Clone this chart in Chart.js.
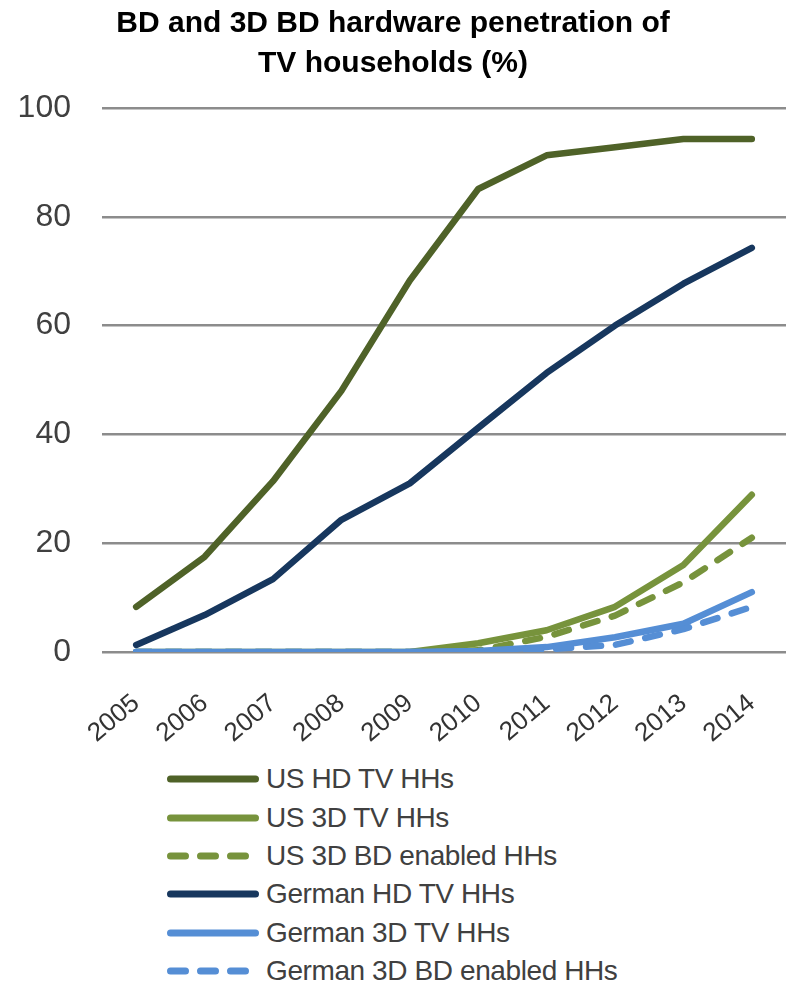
<!DOCTYPE html>
<html>
<head>
<meta charset="utf-8">
<script src="https://cdn.jsdelivr.net/npm/chart.js@4/dist/chart.umd.min.js"></script>
<style>
  html, body { margin: 0; padding: 0; background: #ffffff; }
  #wrap { position: relative; width: 786px; height: 987px; overflow: hidden; }
  #c { position: absolute; left: 0; top: 0; }
  #legend { position: absolute; left: 167px; top: 760px; margin: 0; padding: 0; list-style: none; }
  #legend li { display: flex; align-items: center; height: 38.4px; }
  #legend svg { display: block; }
  #legend span { margin-left: 7px; font-family: "Liberation Sans", Arial, sans-serif; font-size: 28px; color: #404040; letter-spacing: -0.4px; white-space: nowrap; }
</style>
</head>
<body>
<div id="wrap">
  <canvas id="c" width="786" height="760" style="width:786px;height:760px"></canvas>
  <ul id="legend"></ul>
</div>
<script>
const titleLines = ["BD and 3D BD hardware penetration of", "TV households (%)"];
const years = ["2005", "2006", "2007", "2008", "2009", "2010", "2011", "2012", "2013", "2014"];
const yTicks = [0, 20, 40, 60, 80, 100];

const seriesNames = ["US HD TV HHs", "US 3D TV HHs", "US 3D BD enabled HHs", "German HD TV HHs", "German 3D TV HHs", "German 3D BD enabled HHs"];
const usHD      = [8.3, 17.5, 31.4, 48.0, 68.3, 85.1, 91.3, 92.8, 94.3, 94.3];
const us3D      = [0, 0, 0, 0, 0, 1.6, 4.0, 8.3, 16.0, 28.9];
const us3DBD    = [0, 0, 0, 0, 0, 0.3, 2.8, 6.7, 12.8, 21.0];
const deHD      = [1.3, 6.8, 13.4, 24.3, 31.0, 41.2, 51.3, 60.0, 67.7, 74.3];
const de3D      = [0, 0, 0, 0, 0, 0.2, 0.9, 2.7, 5.2, 11.0];
const de3DBD    = [0, 0, 0, 0, 0, 0, 0.5, 1.3, 4.2, 8.3];

const seriesColors = ["#4f6228", "#77933c", "#77933c", "#17375e", "#558ed5", "#558ed5"];
const seriesDash = [[], [], [15, 15], [], [], [15, 15]];
const seriesValues = [usHD, us3D, us3DBD, deHD, de3D, de3DBD];

const FONT = "'Liberation Sans', Arial, sans-serif";

const datasets = seriesNames.map((name, i) => ({
  label: name,
  data: seriesValues[i],
  borderColor: seriesColors[i],
  backgroundColor: seriesColors[i],
  borderWidth: 6.5,
  borderDash: seriesDash[i],
  borderCapStyle: 'round',
  borderJoinStyle: 'round',
  pointRadius: 0,
  pointHoverRadius: 0,
  tension: 0,
  fill: false,
  order: seriesNames.length - i
}));

const htmlLegend = {
  id: 'htmlLegend',
  afterUpdate(chart) {
    const ul = document.getElementById('legend');
    while (ul.firstChild) ul.removeChild(ul.firstChild);
    const items = chart.options.plugins.legend.labels.generateLabels(chart)
      .slice().sort((a, b) => a.datasetIndex - b.datasetIndex);
    const NS = 'http://www.w3.org/2000/svg';
    items.forEach(item => {
      const li = document.createElement('li');
      const svg = document.createElementNS(NS, 'svg');
      svg.setAttribute('width', '92');
      svg.setAttribute('height', '14');
      const line = document.createElementNS(NS, 'line');
      line.setAttribute('x1', '3.5');
      line.setAttribute('x2', '88.5');
      line.setAttribute('y1', '7');
      line.setAttribute('y2', '7');
      line.setAttribute('stroke', item.strokeStyle);
      line.setAttribute('stroke-width', '7');
      line.setAttribute('stroke-linecap', 'round');
      if (item.lineDash && item.lineDash.length) line.setAttribute('stroke-dasharray', item.lineDash.join(' '));
      svg.appendChild(line);
      const span = document.createElement('span');
      span.textContent = item.text;
      li.appendChild(svg);
      li.appendChild(span);
      ul.appendChild(li);
    });
  }
};

new Chart(document.getElementById('c'), {
  type: 'line',
  data: { labels: years, datasets: datasets },
  plugins: [htmlLegend],
  options: {
    responsive: false,
    animation: false,
    devicePixelRatio: 1,
    layout: { padding: { left: 0, right: 0, top: 0, bottom: 0 } },
    plugins: {
      legend: { display: false },
      tooltip: { enabled: false },
      title: {
        display: true,
        text: titleLines,
        color: '#000000',
        font: { family: FONT, size: 30, weight: 'bold', lineHeight: 1.333 },
        padding: { top: 4, bottom: 24 }
      }
    },
    scales: {
      x: {
        type: 'category',
        offset: true,
        grid: { display: false, drawTicks: false },
        border: { display: false },
        ticks: {
          color: '#333333',
          font: { family: FONT, size: 26 },
          minRotation: 40,
          maxRotation: 40,
          padding: 36,
          autoSkip: false
        },
        afterFit(scale) {
          scale.height = 108;
          scale.paddingLeft = 0;
          scale.paddingRight = 0;
        }
      },
      y: {
        min: 0,
        max: 100,
        afterBuildTicks(scale) { scale.ticks = yTicks.map(v => ({ value: v })); },
        grid: { color: '#8c8c8c', lineWidth: 2.5, drawTicks: false },
        border: { display: false },
        ticks: {
          color: '#404040',
          font: { family: FONT, size: 32 },
          padding: 31
        },
        afterFit(scale) {
          scale.width = 102;
          scale.paddingTop = 0;
          scale.paddingBottom = 0;
        }
      }
    }
  }
});
</script>
</body>
</html>
